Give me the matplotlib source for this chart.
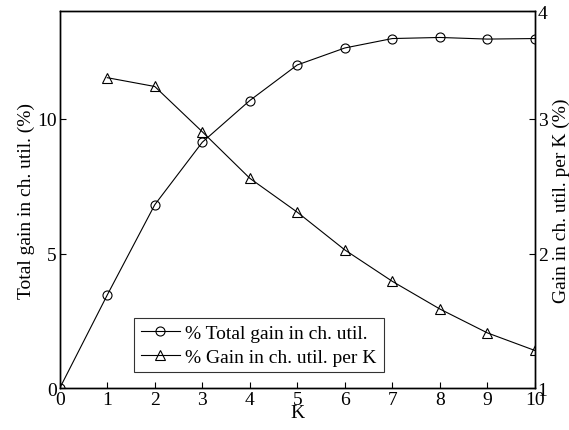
import numpy as np
import matplotlib
matplotlib.use("Agg")
import matplotlib.pyplot as plt

plt.rcParams['font.family'] = ['Liberation Serif', 'DejaVu Serif']
plt.rcParams['mathtext.fontset'] = 'stix'

# values
k_total = [0, 1, 2, 3, 4, 5, 6, 7, 8, 9, 10]
total_gain = [0.0, 3.46, 6.81, 9.13, 10.68, 12.0, 12.63, 12.98, 13.02, 12.96, 12.98]
k_per = [1, 2, 3, 4, 5, 6, 7, 8, 9, 10]
gain_per_k = [3.47, 3.40, 3.04, 2.67, 2.40, 2.10, 1.85, 1.63, 1.44, 1.30]
left_ticks = [0, 5, 10]
right_labels = ['1', '2', '3', '4']

fig = plt.figure(figsize=(5.69, 4.31), dpi=100)
ax = fig.add_axes([0.105, 0.097, 0.835, 0.875])
ax2 = ax.twinx()

l1, = ax.plot(k_total, total_gain, color='k', lw=0.8, marker='o', ms=6.5,
              mfc='none', mec='k', mew=0.8, label='% Total gain in ch. util.')
l2, = ax2.plot(k_per, gain_per_k, color='k', lw=0.8, marker='^', ms=6.5,
               mfc='none', mec='k', mew=0.8, label='% Gain in ch. util. per K')

ax.set_xlim(0, 10)
ax.set_ylim(0, 14)
ax.set_xticks(range(0, 11))
ax.set_yticks(left_ticks)
ax2.set_ylim(1, 4)
# right ticks sit level with the left ones, as in the original
rt = [1 + 3 * t / 14 for t in left_ticks] + [4]
ax2.set_yticks(rt)
ax2.set_yticklabels(right_labels)

ax.tick_params(direction='in', labelsize=14, length=4, width=0.8, pad=2)
ax2.tick_params(direction='in', labelsize=14, length=4, width=0.8, pad=2)
for a in (ax, ax2):
    for s in a.spines.values():
        s.set_linewidth(1.0)

ax.set_xlabel('K', fontsize=14, labelpad=-3)
ax.set_ylabel('Total gain in ch. util. (%)', fontsize=14, labelpad=2)
ax2.set_ylabel('Gain in ch. util. per K (%)', fontsize=14, labelpad=4)

leg = ax.legend(handles=[l1, l2], loc='lower left', bbox_to_anchor=(0.156, 0.042),
                fontsize=14, frameon=True, fancybox=False, edgecolor='k',
                handlelength=2.0, handletextpad=0.3, borderpad=0.35,
                labelspacing=0.3, borderaxespad=0)
leg.get_frame().set_linewidth(0.8)

fig.savefig('out.png', dpi=100)
